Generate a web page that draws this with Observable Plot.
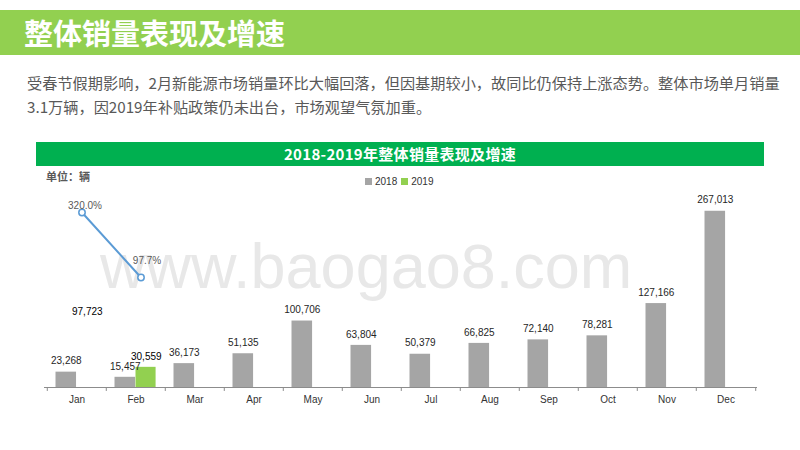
<!DOCTYPE html>
<html>
<head>
<meta charset="utf-8">
<script src="https://cdn.jsdelivr.net/npm/d3@7"></script>
<script src="https://cdn.jsdelivr.net/npm/@observablehq/plot@0.6"></script>
<style>
  html, body { margin: 0; padding: 0; background: #fff; }
  #page { position: relative; width: 800px; height: 450px; overflow: hidden; font-family: "Noto Sans CJK SC", "Noto Sans", sans-serif; }
  .abs { position: absolute; }
  #header { left: 0; top: 10px; width: 800px; height: 45px; background: #92D050; }
  #header span { position: absolute; left: 24px; top: 0; line-height: 45px; font-size: 29px; font-weight: 700; color: #fff; }
  #para { left: 27px; top: 70px; width: 760px; font-size: 15.2px; line-height: 24px; color: #595959; }
  #ctitle { left: 36px; top: 142px; width: 728px; height: 24px; background: #00B050; color: #fff; font-weight: 700; font-size: 15px; line-height: 24px; text-align: center; letter-spacing: 0.3px; }
  #unit { left: 46px; top: 168px; font-size: 11px; line-height: 16px; font-weight: 700; color: #595959; }
  #legend { left: 365px; top: 175px; font-family: "Liberation Sans", Arial, sans-serif; font-size: 10px; line-height: 14px; color: #333; white-space: nowrap; }
  #legend i { display: inline-block; width: 7px; height: 7px; margin-right: 3px; vertical-align: 0px; }
  #legend b { font-weight: 400; margin-right: 4px; }
  #wm { left: 100px; top: 226px; font-family: "Liberation Sans", Arial, sans-serif; font-size: 63px; line-height: 80px; color: #e8e8e8; white-space: nowrap; }
  #chart { left: 0; top: 0; }
</style>
</head>
<body>
<div id="page">
  <div id="header" class="abs"><span>整体销量表现及增速</span></div>
  <div id="para" class="abs">受春节假期影响，2月新能源市场销量环比大幅回落，但因基期较小，故同比仍保持上涨态势。整体市场单月销量3.1万辆，因2019年补贴政策仍未出台，市场观望气氛加重。</div>
  <div id="ctitle" class="abs">2018-2019年整体销量表现及增速</div>
  <div id="unit" class="abs">单位：辆</div>
  <div id="wm" class="abs">www.baogao8.com</div>
  <div id="legend" class="abs"></div>
  <div id="chart" class="abs"></div>
</div>
<script>
const months = ["Jan","Feb","Mar","Apr","May","Jun","Jul","Aug","Sep","Oct","Nov","Dec"];
const series = ["2018","2019"];
const sales2018 = [23268,15457,36173,51135,100706,63804,50379,66825,72140,78281,127166,267013];
const sales2019 = [97723,30559];
const growth2019 = [320.0,97.7];

const grey = "#A5A5A5", green = "#92D050", blue = "#5B9BD5";

const rows2018 = months.map((m,i) => ({month: m, value: sales2018[i]}));
const rows2019 = sales2019.map((v,i) => ({month: months[i], value: v}));
const rowsG = growth2019.map((g,i) => ({month: months[i], g}));

// legend
document.getElementById("legend").innerHTML =
  `<i style="background:${grey}"></i><b>${series[0]}</b><i style="background:${green}"></i><b>${series[1]}</b>`;

const fmt = d3.format(",");
const W = 800, H = 450, mL = 44, mR = 43, mT = 189, mB = 63;
const bw = (W - mL - mR) / months.length;
// growth rate drawn on a secondary axis mapped onto the primary y range
const gy = d => 123390 + 443 * d.g;

const chart = Plot.plot({
  width: W, height: H,
  marginLeft: mL, marginRight: mR, marginTop: mT, marginBottom: mB,
  style: {fontFamily: "'Liberation Sans', Arial, sans-serif", fontSize: "10px", color: "#333", background: "transparent", overflow: "visible"},
  x: {type: "band", domain: months, padding: 0, label: null},
  y: {domain: [0, 300000], axis: null},
  marks: [
    Plot.barY(rows2018, {x: "month", y: "value", fill: grey, insetLeft: 8.5, insetRight: bw - 8.5 - 21}),
    Plot.barY(rows2019, {x: "month", y: "value", fill: d => d.month === "Jan" ? "#FFFFFF" : green, insetLeft: 29.5, insetRight: bw - 29.5 - 20.5}),
    Plot.ruleY([0], {stroke: "#8c8c8c"}),
    Plot.ruleX(months, {x: d => d, y1: 0, y2: -6000, dx: -bw / 2, stroke: "#8c8c8c"}),
    Plot.ruleX(months.slice(-1), {x: d => d, y1: 0, y2: -6000, dx: bw / 2, stroke: "#8c8c8c"}),
    Plot.text(rows2018, {x: "month", y: "value", text: d => fmt(d.value), dx: -bw / 2 + 19, dy: -11, fill: "#262626"}),
    Plot.text(rows2019, {x: "month", y: "value", text: d => fmt(d.value), dx: -bw / 2 + 40, dy: -11, fill: "#000"}),
    Plot.line(rowsG, {x: "month", y: gy, stroke: blue, strokeWidth: 2, dx: 5}),
    Plot.dot(rowsG, {x: "month", y: gy, r: 3.2, stroke: blue, strokeWidth: 1.5, fill: "#fff", dx: 5}),
    Plot.text(rowsG.slice(0,1), {x: "month", y: gy, text: d => d.g.toFixed(1) + "%", dx: 8, dy: -7, fill: "#595959"}),
    Plot.text(rowsG.slice(1,2), {x: "month", y: gy, text: d => d.g.toFixed(1) + "%", dx: 11, dy: -17, fill: "#595959"}),
    Plot.axisX({tickSize: 0, tickPadding: 8, fontSize: 10, fill: "#333"})
  ]
});
document.getElementById("chart").appendChild(chart);
</script>
</body>
</html>
